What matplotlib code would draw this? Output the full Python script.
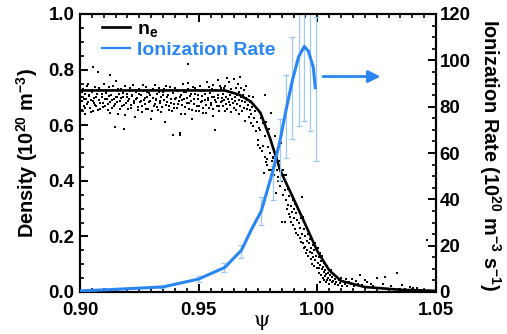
import matplotlib
matplotlib.use("Agg")
import matplotlib.pyplot as plt
from matplotlib.ticker import MultipleLocator
from matplotlib.lines import Line2D
import numpy as np

# ---------------- data ----------------
# n_e profile fit (black line), density in 1e20 m^-3
ne_psi = [0.900, 0.961, 0.967, 0.972, 0.976, 0.980, 0.9845, 0.990, 0.995, 1.000,
          1.005, 1.010, 1.020, 1.035, 1.050]
ne_fit = [0.725, 0.725, 0.710, 0.685, 0.645, 0.555, 0.435, 0.335, 0.242, 0.147,
          0.078, 0.040, 0.018, 0.008, 0.004]

# ionization rate (blue line), 1e20 m^-3 s^-1
ion_psi = [0.900, 0.912, 0.935, 0.950, 0.961, 0.968, 0.972, 0.9764, 0.9812, 0.9842,
           0.9868, 0.9894, 0.9921, 0.9945, 0.9962, 0.9983, 0.9992]
ion_rate = [0.5, 1.0, 2.2, 5.6, 10.6, 18.0, 26.5, 35.0, 52.0, 65.0,
            78.5, 91.0, 101.5, 106.0, 104.0, 97.0, 87.5]

# error bars on ionization rate
err_psi = [0.9118, 0.9346, 0.9500, 0.9607, 0.9678, 0.9764, 0.9813, 0.9843, 0.9868,
           0.9894, 0.9922, 0.9945, 0.9970, 0.9994]
err_val = [1.0, 2.2, 5.5, 10.6, 17.5, 35.0, 47.0, 61.5, 75.8, 88.0, 101.6, 106.0,
           104.0, 87.5]
err_bar = [0.4, 0.5, 1.2, 1.8, 2.8, 6.0, 7.5, 13.2, 18.0, 22.0, 30.0, 32.0, 34.5, 31.0]

# measured density points (black dots)
scatter_pairs = [
    (0.9003, 0.702), (0.9007, 0.655), (0.9010, 0.688), (0.9013, 0.731), (0.9016, 0.668),
    (0.9019, 0.712), (0.9022, 0.641), (0.9026, 0.695), (0.9030, 0.676), (0.9034, 0.748),
    (0.9037, 0.707), (0.9041, 0.663), (0.9045, 0.689), (0.9049, 0.720), (0.9053, 0.652),
    (0.9057, 0.698), (0.9061, 0.681), (0.9065, 0.738), (0.9069, 0.670), (0.9073, 0.711),
    (0.9077, 0.793), (0.9081, 0.690), (0.9085, 0.658), (0.9089, 0.726), (0.9093, 0.702),
    (0.9097, 0.681), (0.9101, 0.749), (0.9106, 0.669), (0.9110, 0.716), (0.9114, 0.694),
    (0.9118, 0.655), (0.9122, 0.738), (0.9126, 0.684), (0.9131, 0.707), (0.9135, 0.662),
    (0.9139, 0.725), (0.9143, 0.695), (0.9147, 0.676), (0.9152, 0.758), (0.9156, 0.701),
    (0.9160, 0.642), (0.9164, 0.714), (0.9168, 0.687), (0.9173, 0.730), (0.9177, 0.669),
    (0.9181, 0.703), (0.9185, 0.585), (0.9189, 0.741), (0.9193, 0.680), (0.9198, 0.712),
    (0.9202, 0.657), (0.9206, 0.696), (0.9210, 0.722), (0.9215, 0.671), (0.9219, 0.705),
    (0.9223, 0.744), (0.9227, 0.688), (0.9231, 0.631), (0.9236, 0.718), (0.9240, 0.699),
    (0.9244, 0.665), (0.9248, 0.731), (0.9252, 0.684), (0.9257, 0.708), (0.9261, 0.648),
    (0.9265, 0.723), (0.9269, 0.692), (0.9273, 0.675), (0.9278, 0.739), (0.9282, 0.701),
    (0.9286, 0.660), (0.9290, 0.716), (0.9294, 0.686), (0.9299, 0.622), (0.9303, 0.727),
    (0.9307, 0.697), (0.9311, 0.670), (0.9315, 0.745), (0.9320, 0.689), (0.9324, 0.711),
    (0.9328, 0.653), (0.9332, 0.734), (0.9336, 0.679), (0.9341, 0.703), (0.9345, 0.664),
    (0.9349, 0.721), (0.9353, 0.690), (0.9357, 0.612), (0.9362, 0.740), (0.9366, 0.682),
    (0.9370, 0.707), (0.9374, 0.668), (0.9378, 0.728), (0.9383, 0.694), (0.9387, 0.650),
    (0.9391, 0.715), (0.9395, 0.677), (0.9399, 0.735), (0.9404, 0.698), (0.9408, 0.662),
    (0.9412, 0.724), (0.9416, 0.686), (0.9420, 0.571), (0.9425, 0.709), (0.9429, 0.672),
    (0.9433, 0.747), (0.9437, 0.693), (0.9441, 0.640), (0.9446, 0.718), (0.9450, 0.681),
    (0.9454, 0.730), (0.9458, 0.660), (0.9462, 0.704), (0.9467, 0.688), (0.9471, 0.622),
    (0.9475, 0.739), (0.9479, 0.675), (0.9483, 0.712), (0.9488, 0.651), (0.9492, 0.726),
    (0.9496, 0.695), (0.9500, 0.668), (0.9505, 0.741), (0.9509, 0.684), (0.9513, 0.706),
    (0.9517, 0.645), (0.9521, 0.722), (0.9526, 0.690), (0.9530, 0.673), (0.9534, 0.756),
    (0.9538, 0.698), (0.9542, 0.662), (0.9547, 0.716), (0.9551, 0.680), (0.9555, 0.732),
    (0.9559, 0.633), (0.9563, 0.703), (0.9568, 0.689), (0.9572, 0.725), (0.9576, 0.669),
    (0.9580, 0.710), (0.9584, 0.651), (0.9589, 0.742), (0.9593, 0.684), (0.9597, 0.698),
    (0.9002, 0.672), (0.9008, 0.718), (0.9015, 0.693), (0.9021, 0.662), (0.9028, 0.740),
    (0.9033, 0.684), (0.9039, 0.706), (0.9046, 0.649), (0.9051, 0.727), (0.9056, 0.688),
    (0.9063, 0.672), (0.9068, 0.700), (0.9075, 0.654), (0.9080, 0.733), (0.9086, 0.681),
    (0.9092, 0.712), (0.9099, 0.666), (0.9104, 0.694), (0.9109, 0.721), (0.9116, 0.676),
    (0.9121, 0.705), (0.9128, 0.645), (0.9133, 0.690), (0.9138, 0.742), (0.9145, 0.668),
    (0.9150, 0.700), (0.9157, 0.683), (0.9162, 0.729), (0.9167, 0.657), (0.9174, 0.697),
    (0.9180, 0.716), (0.9186, 0.673), (0.9191, 0.636), (0.9197, 0.703), (0.9203, 0.688),
    (0.9209, 0.735), (0.9214, 0.661), (0.9221, 0.710), (0.9226, 0.679), (0.9232, 0.725),
    (0.9238, 0.694), (0.9243, 0.655), (0.9250, 0.714), (0.9255, 0.686), (0.9262, 0.669),
    (0.9267, 0.744), (0.9272, 0.699), (0.9279, 0.657), (0.9284, 0.720), (0.9291, 0.684),
    (0.9297, 0.708), (0.9302, 0.650), (0.9309, 0.732), (0.9314, 0.676), (0.9319, 0.696),
    (0.9326, 0.664), (0.9331, 0.718), (0.9338, 0.687), (0.9343, 0.647), (0.9350, 0.709),
    (0.9355, 0.729), (0.9361, 0.672), (0.9367, 0.700), (0.9373, 0.655), (0.9379, 0.736),
    (0.9385, 0.681), (0.9390, 0.715), (0.9397, 0.662), (0.9402, 0.694), (0.9409, 0.726),
    (0.9414, 0.676), (0.9421, 0.703), (0.9426, 0.642), (0.9431, 0.689), (0.9438, 0.720),
    (0.9444, 0.667), (0.9449, 0.697), (0.9456, 0.752), (0.9461, 0.679), (0.9468, 0.711),
    (0.9473, 0.656), (0.9480, 0.694), (0.9486, 0.733), (0.9491, 0.670), (0.9497, 0.708),
    (0.9503, 0.652), (0.9510, 0.724), (0.9515, 0.687), (0.9520, 0.662), (0.9527, 0.713),
    (0.9533, 0.643), (0.9539, 0.692), (0.9545, 0.737), (0.9550, 0.674), (0.9557, 0.703),
    (0.9562, 0.660), (0.9569, 0.726), (0.9574, 0.684), (0.9581, 0.697), (0.9586, 0.668),
    (0.9592, 0.735), (0.9598, 0.686),
    (0.9055, 0.810), (0.9126, 0.780), (0.9455, 0.820), (0.9147, 0.592), (0.9390, 0.565),
    (0.9420, 0.566), (0.9570, 0.583), (0.9580, 0.763), (0.9620, 0.770), (0.9675, 0.773),
    (0.9560, 0.745),
    (0.9601, 0.712), (0.9603, 0.668), (0.9606, 0.735), (0.9608, 0.690), (0.9610, 0.652),
    (0.9612, 0.741), (0.9615, 0.700), (0.9617, 0.677), (0.9619, 0.722), (0.9621, 0.660),
    (0.9624, 0.694), (0.9626, 0.756), (0.9628, 0.683), (0.9630, 0.708), (0.9633, 0.672),
    (0.9635, 0.729), (0.9637, 0.647), (0.9640, 0.695), (0.9642, 0.716), (0.9644, 0.680),
    (0.9647, 0.765), (0.9649, 0.663), (0.9651, 0.702), (0.9654, 0.688), (0.9656, 0.733),
    (0.9658, 0.655), (0.9661, 0.710), (0.9663, 0.676), (0.9665, 0.748), (0.9668, 0.692),
    (0.9670, 0.640), (0.9672, 0.718), (0.9675, 0.668), (0.9677, 0.700), (0.9680, 0.735),
    (0.9682, 0.651), (0.9684, 0.687), (0.9687, 0.707), (0.9689, 0.662), (0.9691, 0.726),
    (0.9694, 0.683), (0.9696, 0.614), (0.9698, 0.698), (0.9701, 0.742), (0.9703, 0.657),
    (0.9705, 0.690), (0.9708, 0.673), (0.9710, 0.628), (0.9712, 0.705), (0.9715, 0.655),
    (0.9717, 0.684), (0.9720, 0.607), (0.9722, 0.640), (0.9725, 0.666), (0.9727, 0.700),
    (0.9730, 0.596), (0.9733, 0.625), (0.9736, 0.650), (0.9740, 0.580), (0.9745, 0.610),
    (0.9748, 0.547), (0.9750, 0.528), (0.9753, 0.590), (0.9757, 0.518), (0.9760, 0.583),
    (0.9763, 0.625), (0.9780, 0.709),
    (0.9766, 0.508), (0.9770, 0.608), (0.9772, 0.525), (0.9775, 0.428), (0.9778, 0.486),
    (0.9780, 0.560), (0.9782, 0.469), (0.9785, 0.610), (0.9787, 0.478), (0.9790, 0.457),
    (0.9792, 0.520), (0.9795, 0.439), (0.9797, 0.588), (0.9800, 0.500), (0.9803, 0.440),
    (0.9805, 0.644), (0.9808, 0.470), (0.9810, 0.530), (0.9812, 0.482), (0.9815, 0.486),
    (0.9818, 0.420), (0.9820, 0.457), (0.9823, 0.560), (0.9826, 0.356), (0.9828, 0.440),
    (0.9830, 0.478), (0.9833, 0.398), (0.9836, 0.415), (0.9838, 0.470), (0.9840, 0.446),
    (0.9843, 0.380), (0.9846, 0.430), (0.9848, 0.537), (0.9850, 0.253), (0.9852, 0.400),
    (0.9855, 0.439), (0.9857, 0.350), (0.9860, 0.420),
    (0.9862, 0.367), (0.9864, 0.253), (0.9866, 0.395), (0.9868, 0.331), (0.9870, 0.420),
    (0.9872, 0.300), (0.9875, 0.372), (0.9877, 0.313), (0.9880, 0.345), (0.9882, 0.280),
    (0.9885, 0.271), (0.9887, 0.355), (0.9889, 0.253), (0.9891, 0.310), (0.9894, 0.289),
    (0.9896, 0.330), (0.9898, 0.240), (0.9900, 0.300), (0.9903, 0.265), (0.9905, 0.318),
    (0.9908, 0.228), (0.9910, 0.285), (0.9912, 0.211), (0.9915, 0.260), (0.9918, 0.300),
    (0.9920, 0.205), (0.9922, 0.248), (0.9925, 0.194), (0.9927, 0.232), (0.9930, 0.180),
    (0.9932, 0.265), (0.9934, 0.340), (0.9936, 0.210), (0.9938, 0.175), (0.9940, 0.270),
    (0.9942, 0.225), (0.9945, 0.160), (0.9948, 0.163), (0.9950, 0.200), (0.9952, 0.140),
    (0.9955, 0.185), (0.9957, 0.151), (0.9960, 0.210), (0.9962, 0.128), (0.9965, 0.175),
    (0.9967, 0.145), (0.9970, 0.190), (0.9972, 0.118), (0.9974, 0.160), (0.9976, 0.139),
    (0.9978, 0.100), (0.9980, 0.170), (0.9982, 0.125), (0.9985, 0.150), (0.9987, 0.095),
    (0.9990, 0.115), (0.9992, 0.175), (0.9995, 0.130), (0.9997, 0.151), (0.9999, 0.085),
    (1.0001, 0.104), (1.0003, 0.160), (1.0005, 0.086), (1.0006, 0.125), (1.0008, 0.068),
    (1.0010, 0.140), (1.0011, 0.037), (1.0013, 0.098), (1.0015, 0.112), (1.0017, 0.060),
    (1.0018, 0.082), (1.0020, 0.130), (1.0022, 0.050), (1.0024, 0.090), (1.0026, 0.072),
    (1.0028, 0.043), (1.0030, 0.105), (1.0032, 0.058), (1.0034, 0.080), (1.0036, 0.035),
    (1.0038, 0.066), (1.0040, 0.043), (1.0042, 0.092), (1.0045, 0.052), (1.0047, 0.070),
    (1.0050, 0.030), (1.0052, 0.060), (1.0055, 0.044), (1.0058, 0.078), (1.0060, 0.035),
    (1.0063, 0.055), (1.0066, 0.040), (1.0070, 0.062), (1.0073, 0.028), (1.0076, 0.048),
    (1.0080, 0.036), (1.0084, 0.055), (1.0088, 0.025), (1.0092, 0.042), (1.0096, 0.032),
    (1.0100, 0.050), (1.0105, 0.022), (1.0110, 0.038), (1.0115, 0.030), (1.0120, 0.045),
    (1.0126, 0.020), (1.0132, 0.035), (1.0140, 0.028), (1.0148, 0.048), (1.0155, 0.022),
    (1.0163, 0.040), (1.0170, 0.030), (1.0180, 0.061), (1.0190, 0.025), (1.0200, 0.042),
    (1.0208, 0.037), (1.0215, 0.018), (1.0225, 0.030), (1.0235, 0.022), (1.0250, 0.050),
    (1.0262, 0.015), (1.0275, 0.028), (1.0285, 0.055), (1.0298, 0.012), (1.0310, 0.020),
    (1.0334, 0.067), (1.0345, 0.010), (1.0355, 0.025), (1.0370, 0.012), (1.0390, 0.019),
    (1.0405, 0.016), (1.0420, 0.013), (1.0435, 0.008), (1.0460, 0.187),
]
psi_pts = [p for p, _ in scatter_pairs]
ne_pts = [n for _, n in scatter_pairs]

# arrow pointing to the right axis (psi start, psi end, rate level)
arrow_psi = [1.0024, 1.0266]
arrow_rate = 93.0

xticks = [0.90, 0.95, 1.00, 1.05]
yticks_left = [0.0, 0.2, 0.4, 0.6, 0.8, 1.0]
yticks_right = [0, 20, 40, 60, 80, 100, 120]

# ---------------- style ----------------
FONT = 'Liberation Sans'
plt.rcParams['font.family'] = [FONT, 'DejaVu Sans']
plt.rcParams['font.weight'] = 'bold'
plt.rcParams['mathtext.fontset'] = 'custom'
plt.rcParams['mathtext.rm'] = FONT + ':bold'
plt.rcParams['mathtext.bf'] = FONT + ':bold'
plt.rcParams['mathtext.it'] = FONT + ':bold'

BLUE = '#2a86f2'
EBLUE = '#9ec8f7'

fig = plt.figure(figsize=(5.07, 3.34), dpi=100)
ax = fig.add_axes([80/507, 42/334, 356/507, 278/334])
ax2 = ax.twinx()

ax.plot(psi_pts, ne_pts, ls='none', marker='s', ms=1.5, mew=0, color='black', zorder=2)
ax.plot(ne_psi, ne_fit, color='black', lw=1.9, zorder=3)

ax2.errorbar(err_psi, err_val, yerr=err_bar, fmt='none', ecolor=EBLUE,
             elinewidth=0.9, capsize=2.4, capthick=0.9, zorder=2)
ax2.plot(ion_psi, ion_rate, color=BLUE, lw=2.2, zorder=3, solid_capstyle='butt')

ax2.annotate('', xy=(arrow_psi[1], arrow_rate), xytext=(arrow_psi[0], arrow_rate),
             arrowprops=dict(arrowstyle='-|>', color=BLUE, lw=2.0, mutation_scale=18,
                             shrinkA=0, shrinkB=0))

ax.set_xlim(0.90, 1.05)
ax.set_ylim(0.0, 1.0)
ax2.set_ylim(0, 120)

ax.set_xticks(xticks)
ax.set_xticklabels([f'{v:.2f}' for v in xticks])
ax.set_yticks(yticks_left)
ax.set_yticklabels([f'{v:.1f}' for v in yticks_left])
ax2.set_yticks(yticks_right)
ax2.set_yticklabels([str(v) for v in yticks_right])
ax.xaxis.set_minor_locator(MultipleLocator(0.005))
ax.yaxis.set_minor_locator(MultipleLocator(0.05))
ax2.yaxis.set_minor_locator(MultipleLocator(5))

ax.tick_params(axis='x', which='both', direction='in', top=True, bottom=True)
ax.tick_params(axis='y', which='both', direction='in', left=True, right=False)
ax2.tick_params(axis='y', which='both', direction='in', right=True, left=False)
for a in (ax, ax2):
    a.tick_params(which='major', length=5.5, width=1.4, labelsize=13.4)
    a.tick_params(which='minor', length=3.0, width=1.2)
ax.tick_params(axis='x', pad=7.5)
ax.tick_params(axis='y', pad=4)
ax2.tick_params(axis='y', pad=2.5)
for a in (ax, ax2):
    for s in a.spines.values():
        s.set_linewidth(1.5)

for lab in ax.get_xticklabels() + ax.get_yticklabels() + ax2.get_yticklabels():
    lab.set_fontweight('bold')

# axis labels
fig.text(27/507, 1 - 153/334, 'Density (10$^{20}$ m$^{-3}$)', rotation=90,
         ha='center', va='center', fontsize=14.3, fontweight='bold')
fig.text(490/507, 1 - 155/334, 'Ionization Rate (10$^{20}$ m$^{-3}$ s$^{-1}$)',
         rotation=270, ha='center', va='center', fontsize=14.3, fontweight='bold')
fig.text(262/507, 1 - 320/334, 'ψ', ha='center', va='center', fontsize=15,
         family='DejaVu Serif', fontweight='normal')

# legend
handles = [Line2D([], [], color='black', lw=1.9), Line2D([], [], color=BLUE, lw=1.6)]
leg = ax2.legend(handles, ['n$_{e}$', 'Ionization Rate'], loc='upper left',
                 bbox_to_anchor=(0.03, 1.02), frameon=False, fontsize=14,
                 handlelength=1.4, handletextpad=0.4, labelspacing=0.12,
                 borderaxespad=0.2)
for t in leg.get_texts():
    t.set_fontweight('bold')
leg.get_texts()[1].set_color(BLUE)

fig.savefig('out.png', dpi=100)
